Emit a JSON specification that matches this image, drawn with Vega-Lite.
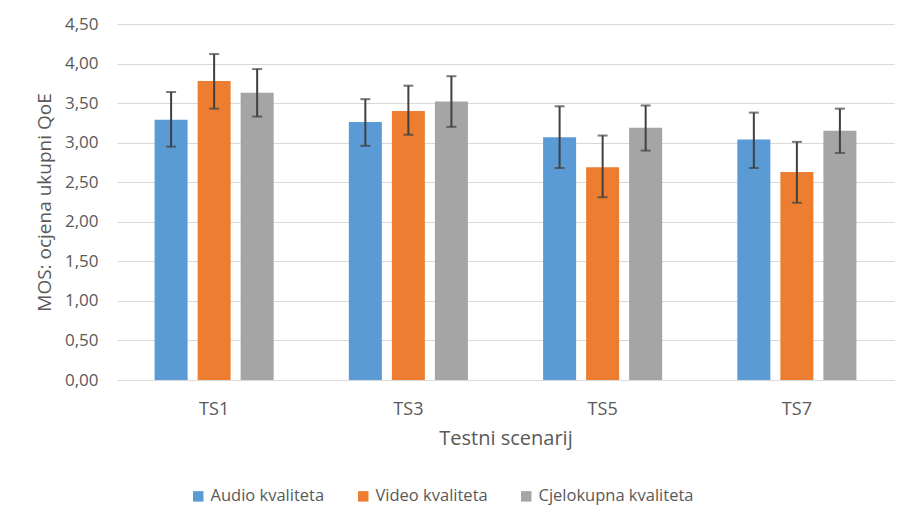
{
  "$schema": "https://vega.github.io/schema/vega-lite/v6.json",
  "width": 777,
  "height": 356,
  "autosize": {"type": "none"},
  "padding": {"left": 117, "top": 24, "right": 23, "bottom": 151},
  "background": "white",
  "config": {
    "view": {"stroke": null},
    "font": "Open Sans",
    "locale": {"number": {"decimal": ",", "thousands": ".", "grouping": [3], "currency": ["", " €"]}}
  },
  "data": {
    "values": [
      {"scenarij": "TS1", "tip": "Audio kvaliteta", "mos": 3.29, "lo": 2.95, "hi": 3.64},
      {"scenarij": "TS1", "tip": "Video kvaliteta", "mos": 3.78, "lo": 3.43, "hi": 4.12},
      {"scenarij": "TS1", "tip": "Cjelokupna kvaliteta", "mos": 3.63, "lo": 3.33, "hi": 3.93},
      {"scenarij": "TS3", "tip": "Audio kvaliteta", "mos": 3.26, "lo": 2.96, "hi": 3.55},
      {"scenarij": "TS3", "tip": "Video kvaliteta", "mos": 3.40, "lo": 3.10, "hi": 3.72},
      {"scenarij": "TS3", "tip": "Cjelokupna kvaliteta", "mos": 3.52, "lo": 3.20, "hi": 3.84},
      {"scenarij": "TS5", "tip": "Audio kvaliteta", "mos": 3.07, "lo": 2.68, "hi": 3.46},
      {"scenarij": "TS5", "tip": "Video kvaliteta", "mos": 2.69, "lo": 2.31, "hi": 3.09},
      {"scenarij": "TS5", "tip": "Cjelokupna kvaliteta", "mos": 3.19, "lo": 2.90, "hi": 3.47},
      {"scenarij": "TS7", "tip": "Audio kvaliteta", "mos": 3.04, "lo": 2.68, "hi": 3.38},
      {"scenarij": "TS7", "tip": "Video kvaliteta", "mos": 2.63, "lo": 2.24, "hi": 3.01},
      {"scenarij": "TS7", "tip": "Cjelokupna kvaliteta", "mos": 3.15, "lo": 2.87, "hi": 3.43}
    ]
  },
  "resolve": {"axis": {"y": "independent"}},
  "encoding": {
    "x": {
      "field": "scenarij", "type": "nominal",
      "scale": {"paddingInner": 0.387, "paddingOuter": 0.1935},
      "axis": {"title": "Testni scenarij", "labelAngle": 0, "labelFontSize": 18, "titleFontSize": 20, "titleFontWeight": "normal", "labelColor": "#595959", "titleColor": "#595959", "labelPadding": 20, "titlePadding": 10, "ticks": false, "domain": false, "grid": false}
    },
    "xOffset": {
      "field": "tip", "type": "nominal",
      "sort": ["Audio kvaliteta", "Video kvaliteta", "Cjelokupna kvaliteta"],
      "scale": {"paddingInner": 0.2326, "paddingOuter": 0}
    }
  },
  "layer": [
    {
      "mark": {"type": "bar"},
      "encoding": {
        "y": {
          "field": "mos", "type": "quantitative",
          "scale": {"domain": [0, 4.5], "nice": false},
          "axis": {
            "title": "MOS: ocjena ukupni QoE",
            "values": [0, 0.5, 1, 1.5, 2, 2.5, 3, 3.5, 4, 4.5],
            "format": ".2f",
            "labelFontSize": 17, "titleFontSize": 19, "titleFontWeight": "normal",
            "labelColor": "#595959", "titleColor": "#595959",
            "labelPadding": 19, "titlePadding": 10,
            "ticks": false, "domain": false,
            "gridColor": "#D9D9D9", "gridWidth": 1
          }
        },
        "color": {
          "field": "tip", "type": "nominal",
          "scale": {"domain": ["Audio kvaliteta", "Video kvaliteta", "Cjelokupna kvaliteta"], "range": ["#5B9BD5", "#ED7D31", "#A5A5A5"]},
          "legend": {
            "title": null, "orient": "none", "direction": "horizontal",
            "legendX": 73, "legendY": 464,
            "symbolType": "square", "symbolSize": 110, "symbolStrokeWidth": 0,
            "labelFontSize": 16.5, "labelColor": "#595959",
            "columnPadding": 30, "labelOffset": 4
          }
        }
      }
    },
    {
      "mark": {"type": "rule", "color": "#404040", "strokeWidth": 2},
      "encoding": {
        "y": {"field": "lo", "type": "quantitative", "axis": {"labels": false, "grid": false, "ticks": false, "domain": false, "title": null}},
        "y2": {"field": "hi"}
      }
    },
    {
      "mark": {"type": "tick", "color": "#404040", "thickness": 2, "size": 10},
      "encoding": {"y": {"field": "lo", "type": "quantitative", "axis": {"labels": false, "grid": false, "ticks": false, "domain": false, "title": null}}}
    },
    {
      "mark": {"type": "tick", "color": "#404040", "thickness": 2, "size": 10},
      "encoding": {"y": {"field": "hi", "type": "quantitative", "axis": {"labels": false, "grid": false, "ticks": false, "domain": false, "title": null}}}
    }
  ]
}
